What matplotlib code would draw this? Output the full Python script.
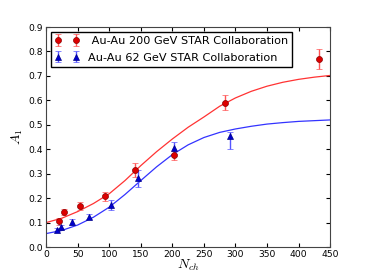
import matplotlib
matplotlib.use("Agg")
import matplotlib.pyplot as plt

# STAR data points
nch_200 = [21, 29, 54, 94, 141, 202, 284, 433]
a1_200 = [0.105, 0.142, 0.168, 0.207, 0.316, 0.376, 0.591, 0.769]
err_200 = [0.015, 0.012, 0.017, 0.018, 0.028, 0.018, 0.030, 0.040]

nch_62 = [17, 24, 41, 68, 103, 146, 203, 291]
a1_62 = [0.070, 0.081, 0.104, 0.124, 0.172, 0.282, 0.404, 0.455]
err_62_lo = [0.006, 0.008, 0.012, 0.010, 0.020, 0.035, 0.025, 0.055]
err_62_hi = [0.006, 0.008, 0.012, 0.010, 0.020, 0.035, 0.025, 0.017]

# fitted curves
nch_fit = [0, 25, 50, 75, 100, 125, 150, 175, 200, 225, 250, 275, 300,
           325, 350, 375, 400, 425, 450]
fit_200 = [0.100, 0.118, 0.145, 0.178, 0.218, 0.272, 0.333, 0.390, 0.442,
           0.490, 0.532, 0.576, 0.610, 0.637, 0.658, 0.674, 0.686, 0.695, 0.702]
fit_62 = [0.055, 0.068, 0.090, 0.122, 0.163, 0.215, 0.272, 0.328, 0.378,
          0.418, 0.448, 0.469, 0.483, 0.494, 0.503, 0.509, 0.514, 0.517, 0.520]

plt.rcParams["legend.numpoints"] = 2
plt.rcParams["mathtext.fontset"] = "cm"

fig = plt.figure(figsize=(3.66, 2.76), dpi=100)
ax = fig.add_axes([0.126, 0.105, 0.776, 0.797])

ax.errorbar(nch_200, a1_200, yerr=err_200, fmt="o", color="#dd0000", mec="#880000",
            mew=0.5, ecolor="#ff5555", ms=4.3, capsize=2.5, elinewidth=1,
            label=" Au-Au 200 GeV STAR Collaboration", zorder=3)
ax.errorbar(nch_62, a1_62, yerr=[err_62_lo, err_62_hi], fmt="^", color="#0000cc",
            mec="#000088", mew=0.5, ecolor="#5555ff", ms=3.8, capsize=2.5,
            elinewidth=1, label="Au-Au 62 GeV STAR Collaboration", zorder=3)
ax.plot(nch_fit, fit_200, color="#ff3333", lw=0.9)
ax.plot(nch_fit, fit_62, color="#3333ff", lw=0.9)

ax.set_xlim(0, 450)
ax.set_ylim(0, 0.9)
ax.set_xticks(range(0, 451, 50))
ax.set_yticks([i / 10 for i in range(10)])
ax.tick_params(direction="in", top=True, right=True, labelsize=6.6, length=3, pad=2)
ax.set_xlabel("$N_{ch}$", fontsize=10, labelpad=-1)
ax.set_ylabel("$A_1$", fontsize=10, labelpad=3)
for s in ax.spines.values():
    s.set_color("#444444")

ax.legend(loc="upper left", numpoints=2, fontsize=8.1, fancybox=False,
          edgecolor="black", framealpha=1, borderpad=0.4, labelspacing=0.6,
          handlelength=2.2, handletextpad=0.7, borderaxespad=0.4)

fig.savefig("out.png", dpi=100)
